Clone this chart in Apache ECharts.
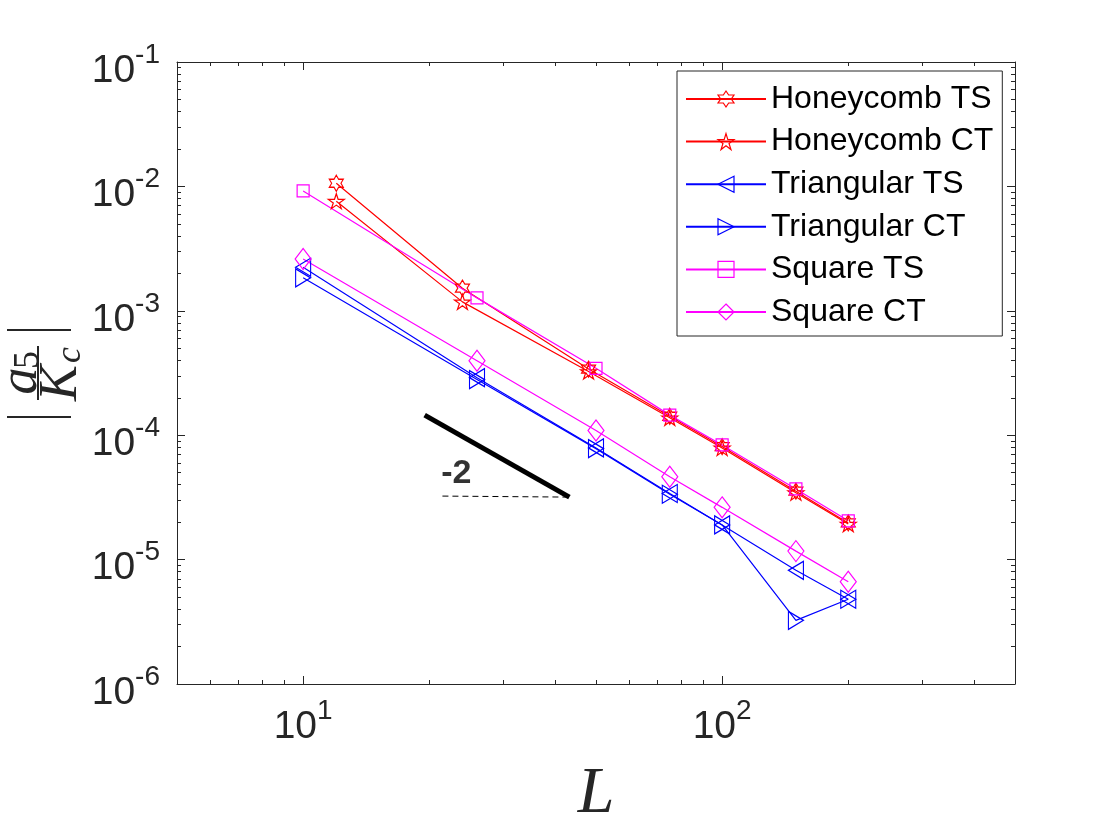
<!DOCTYPE html>
<html>
<head>
<meta charset="utf-8">
<title>|a5/Kc| versus L</title>
<script src="https://cdn.jsdelivr.net/npm/echarts@6/dist/echarts.min.js"></script>
<style>
html, body { margin: 0; padding: 0; background: #fff; }
#main { width: 1120px; height: 840px; }
</style>
</head>
<body>
<div id="main"></div>
<script>
// lattice sizes
var honeycombL = [12, 24, 48, 75, 100, 150, 200];
var otherL = [10, 26, 50, 75, 100, 150, 200];

// |a5 / Kc|
var honeycombTS = [1.06e-2, 1.52e-3, 3.4e-4, 1.42e-4, 8.1e-5, 3.55e-5, 1.97e-5];
var honeycombCT = [7.6e-3, 1.18e-3, 3.25e-4, 1.38e-4, 7.9e-5, 3.45e-5, 1.93e-5];
var triangularTS = [2.24e-3, 2.9e-4, 7.9e-5, 3.4e-5, 1.9e-5, 8.2e-6, 4.8e-6];
var triangularCT = [1.84e-3, 2.8e-4, 7.8e-5, 3.35e-5, 1.9e-5, 3.25e-6, 4.8e-6];
var squareTS = [9.2e-3, 1.27e-3, 3.45e-4, 1.45e-4, 8.35e-5, 3.7e-5, 2.05e-5];
var squareCT = [2.61e-3, 3.97e-4, 1.09e-4, 4.64e-5, 2.63e-5, 1.17e-5, 6.64e-6];

// slope guide (-2)
var slopeLine = [[19.5, 1.45e-4], [43.2, 3.18e-5]];
var slopeBase = [[21.5, 3.24e-5], [43.2, 3.18e-5]];
var slopeLabel = [[23.2, 4.87e-5]];

// ticks
var xMajor = [10, 100];
var xMinor = [6, 7, 8, 9, 20, 30, 40, 50, 60, 70, 80, 90, 200, 300, 400];
var yMajor = [1e-6, 1e-5, 1e-4, 1e-3, 1e-2, 1e-1];
var yMinor = [];
yMajor.slice(0, 5).forEach(function (p) {
    for (var k = 2; k <= 9; k++) yMinor.push(+(p * k).toPrecision(3));
});

var axisColor = '#262626';
var sans = '"Liberation Sans", Arial, Helvetica, sans-serif';
var serif = '"Liberation Serif", "Times New Roman", serif';

// hollow star outline with n points, coordinates kept positive
function starPath(n, inner) {
    var d = '';
    for (var i = 0; i < 2 * n; i++) {
        var a = -Math.PI / 2 + i * Math.PI / n;
        var r = i % 2 ? inner : 1;
        var px = Math.round(100 + 100 * r * Math.cos(a));
        var py = Math.round(100 + 100 * r * Math.sin(a));
        d += (i ? ' L ' : 'M ') + px + ' ' + py;
    }
    return 'path://' + d + ' Z';
}
var hexagram = starPath(6, 0.577);
var pentagram = starPath(5, 0.382);
var triLeft = 'path://M10,0L0,5L10,10Z';
var triRight = 'path://M0,0L10,5L0,10Z';

function pairs(xs, ys) {
    return xs.map(function (x, i) { return [x, ys[i]]; });
}

function curve(name, xs, ys, color, symbol, size) {
    return {
        name: name,
        type: 'line',
        data: pairs(xs, ys),
        symbol: symbol,
        symbolSize: size,
        lineStyle: { color: color, width: 1.2 },
        itemStyle: { color: 'rgba(0,0,0,0)', borderColor: color, borderWidth: 1.2 },
        emphasis: { disabled: true },
        z: 3
    };
}

var labelRich = {
    b: { fontSize: 39, lineHeight: 40, padding: [18, 0, 0, 0], color: axisColor, fontFamily: sans },
    e: { fontSize: 28, lineHeight: 28, padding: [8, 0, 22, 0], color: axisColor, fontFamily: sans }
};
function powLabel(v) {
    return '{b|10}{e|' + Math.round(Math.log10(v)) + '}';
}

function logX(extra) {
    return Object.assign({
        type: 'log', logBase: 10, min: 5, max: 500, gridIndex: 0,
        splitLine: { show: false },
        axisLine: { show: false },
        axisLabel: { show: false },
        axisTick: { show: false }
    }, extra);
}
function logY(extra) {
    return Object.assign({
        type: 'log', logBase: 10, min: 1e-6, max: 1e-1, gridIndex: 0,
        splitLine: { show: false },
        axisLine: { show: false },
        axisLabel: { show: false },
        axisTick: { show: false }
    }, extra);
}
var edge = { show: true, lineStyle: { color: axisColor, width: 1 } };
function majorTick(vals) {
    return { show: true, inside: true, length: 8, customValues: vals, lineStyle: { color: axisColor, width: 1 } };
}
function minorTick(vals) {
    return { show: true, inside: true, length: 4, customValues: vals, lineStyle: { color: axisColor, width: 1 } };
}

var chart = echarts.init(document.getElementById('main'));

var option = {
    animation: false,
    backgroundColor: '#fff',
    grid: { left: 177, right: 105, top: 62, bottom: 156 },
    legend: {
        orient: 'vertical',
        left: 677,
        top: 71,
        padding: [12, 9, 8, 8],
        itemWidth: 80,
        itemHeight: 20,
        itemGap: 10.6,
        borderColor: axisColor,
        borderWidth: 1,
        backgroundColor: '#fff',
        itemStyle: { borderWidth: 1.2 },
        textStyle: { fontSize: 32, color: '#000', fontFamily: sans },
        data: ['Honeycomb TS', 'Honeycomb CT', 'Triangular TS', 'Triangular CT', 'Square TS', 'Square CT']
    },
    xAxis: [
        logX({
            position: 'bottom',
            axisLine: edge,
            axisTick: majorTick(xMajor),
            axisLabel: { show: true, margin: 14, customValues: xMajor, formatter: powLabel, rich: labelRich },
            name: 'L',
            nameLocation: 'middle',
            nameGap: 78,
            nameTextStyle: { fontFamily: serif, fontStyle: 'italic', fontSize: 66, color: axisColor }
        }),
        logX({ position: 'bottom', axisTick: minorTick(xMinor) }),
        logX({ position: 'top', axisLine: edge, axisTick: majorTick(xMajor) }),
        logX({ position: 'top', axisTick: minorTick(xMinor) })
    ],
    yAxis: [
        logY({
            position: 'left',
            axisLine: edge,
            axisTick: majorTick(yMajor),
            axisLabel: { show: true, margin: 17, customValues: yMajor, formatter: powLabel, rich: labelRich }
        }),
        logY({ position: 'left', axisTick: minorTick(yMinor) }),
        logY({ position: 'right', axisLine: edge, axisTick: majorTick(yMajor) }),
        logY({ position: 'right', axisTick: minorTick(yMinor) })
    ],
    graphic: [{
        type: 'group',
        x: 40,
        y: 373,
        rotation: Math.PI / 2,
        children: [
            { type: 'line', shape: { x1: -44, y1: -33, x2: -44, y2: 31 }, style: { stroke: axisColor, lineWidth: 2 } },
            { type: 'line', shape: { x1: 43, y1: -33, x2: 43, y2: 31 }, style: { stroke: axisColor, lineWidth: 2 } },
            { type: 'line', shape: { x1: -27, y1: -2, x2: 27, y2: -2 }, style: { stroke: axisColor, lineWidth: 2 } },
            { type: 'text', x: -8, y: -18, style: { text: 'a', font: 'italic 54px ' + serif, fill: axisColor, align: 'center', verticalAlign: 'middle' } },
            { type: 'text', x: 13, y: -11, style: { text: '5', font: '36px ' + serif, fill: axisColor, align: 'center', verticalAlign: 'middle' } },
            { type: 'text', x: -10, y: 22, style: { text: 'K', font: 'italic 54px ' + serif, fill: axisColor, align: 'center', verticalAlign: 'middle' } },
            { type: 'text', x: 18, y: 31, style: { text: 'c', font: 'italic 36px ' + serif, fill: axisColor, align: 'center', verticalAlign: 'middle' } }
        ]
    }],
    series: [
        curve('Honeycomb TS', honeycombL, honeycombTS, '#ff0000', hexagram, [14, 16]),
        curve('Honeycomb CT', honeycombL, honeycombCT, '#ff0000', pentagram, [16, 15]),
        curve('Triangular TS', otherL, triangularTS, '#0000ff', triLeft, [15, 18]),
        curve('Triangular CT', otherL, triangularCT, '#0000ff', triRight, [15, 18]),
        curve('Square TS', otherL, squareTS, '#ff00ff', 'rect', 12),
        curve('Square CT', otherL, squareCT, '#ff00ff', 'diamond', [16, 21]),
        {
            type: 'line', data: slopeLine, symbol: 'none', silent: true,
            lineStyle: { color: '#000', width: 5 }, z: 2
        },
        {
            type: 'line', data: slopeBase, symbol: 'none', silent: true,
            lineStyle: { color: '#000', width: 1, type: [6, 4] }, z: 2
        },
        {
            type: 'scatter', data: slopeLabel, symbolSize: 0, silent: true,
            label: { show: true, position: 'inside', formatter: '-2', fontSize: 34, fontWeight: 'bold', color: '#000', fontFamily: sans }
        }
    ]
};

chart.setOption(option);
</script>
</body>
</html>
